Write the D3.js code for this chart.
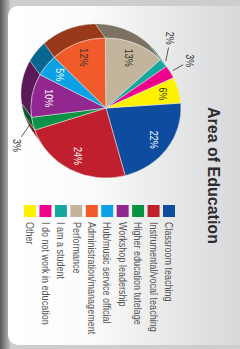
<!DOCTYPE html>
<meta charset="utf-8">
<script src="https://d3js.org/d3.v7.min.js"></script>
<style>
  body { margin: 0; background: #cfcfcf; }
  svg { display: block; }
</style>
<body>
<div id="my_dataviz"></div>
<script>

// data
var categories = ["Classroom teaching", "Instrumental/vocal teaching", "Higher education tutelage",
  "Workshop leadership", "Hub/music service official", "Administration/management",
  "Performance", "I am a student", "I do not work in education", "Other"];
var percents = [22, 24, 3, 10, 5, 12, 13, 2, 3, 6];
var colors = ["#0d4c9f", "#c01f2e", "#0b9345", "#92278f", "#0aa2e4", "#f15a29",
  "#c3b59b", "#14a89d", "#ec008c", "#fff200"];
var title = "Area of Education";

// leader line turn (degrees) for the small outside labels
var leaderTurn = {"I am a student": -6, "Higher education tutelage": -7};

var W = 240, H = 349;
var svg = d3.select("#my_dataviz")
  .append("svg")
    .attr("width", W)
    .attr("height", H);

var defs = svg.append("defs");

// page edge + card background
var edge = defs.append("linearGradient").attr("id", "edge")
  .attr("x1", 0).attr("x2", 1).attr("y1", 0).attr("y2", 0);
edge.append("stop").attr("offset", 0).attr("stop-color", "#585858");
edge.append("stop").attr("offset", 1).attr("stop-color", "#bdbdbd");

var card = defs.append("linearGradient").attr("id", "card")
  .attr("gradientUnits", "userSpaceOnUse")
  .attr("x1", 8).attr("x2", W).attr("y1", 0).attr("y2", 0);
card.append("stop").attr("offset", 0).attr("stop-color", "#ffffff");
card.append("stop").attr("offset", 0.35).attr("stop-color", "#fbfbfb");
card.append("stop").attr("offset", 1).attr("stop-color", "#d7d8da");

svg.append("rect").attr("width", W).attr("height", H).attr("fill", "#cdcdcd");
svg.append("rect").attr("width", 10).attr("height", H).attr("fill", "url(#edge)");
svg.append("rect")
  .attr("x", 8).attr("y", 6)
  .attr("width", W + 20).attr("height", H - 10)
  .attr("rx", 10)
  .attr("fill", "url(#card)");

// the whole chart is laid out upright and turned a quarter clockwise
var g = svg.append("g")
  .attr("transform", "translate(" + W + ",0) rotate(90)");

var data = categories.map(function(c, i) {
  return {name: c, value: percents[i], color: colors[i]};
});

var cx = 108, cy = 134, rx = 70, ry = 75;
var depth = [-14, 10];
var rad = Math.PI / 180;
var squeeze = 0.82;   // the original uses a condensed face

var pie = d3.pie()
  .sort(null)
  .value(function(d) { return d.value; })
  .startAngle(-4 * rad)
  .endAngle(356 * rad);
var arcs = pie(data);

function pt(a, r) {
  return [cx + r * rx * Math.sin(a), cy - r * ry * Math.cos(a)];
}
function facing(a) {
  return ry * Math.sin(a) * depth[0] - rx * Math.cos(a) * depth[1] > 0;
}
function at(p) {
  return "translate(" + p[0] + "," + p[1] + ") scale(" + squeeze + ",1)";
}

// side walls
var line = d3.line();
g.append("g").selectAll("path")
  .data(arcs)
  .enter()
  .append("path")
    .attr("d", function(d) {
      var as = d3.range(d.startAngle, d.endAngle, 0.01).concat([d.endAngle]).filter(facing);
      if (as.length < 2) return null;
      var top = as.map(function(a) { return pt(a, 1); });
      var bottom = as.slice().reverse().map(function(a) {
        var p = pt(a, 1); return [p[0] + depth[0], p[1] + depth[1]];
      });
      return line(top.concat(bottom)) + "Z";
    })
    .attr("fill", function(d) { return d3.color(d.data.color).darker(1.3); })
    .attr("stroke", "#d8d8d8")
    .attr("stroke-width", 0.4);

// top face
var arc = d3.arc().innerRadius(0).outerRadius(rx);
g.append("g")
  .attr("transform", "translate(" + cx + "," + cy + ") scale(1," + (ry / rx) + ")")
  .selectAll("path")
  .data(arcs)
  .enter()
  .append("path")
    .attr("d", arc)
    .attr("fill", function(d) { return d.data.color; })
    .attr("stroke", "#e8e8e8")
    .attr("stroke-width", 0.5)
    .attr("vector-effect", "non-scaling-stroke");

var font = "'Liberation Sans', Arial, sans-serif";
function mid(d) { return (d.startAngle + d.endAngle) / 2; }

// inside labels
g.append("g").selectAll("text")
  .data(arcs.filter(function(d) { return d.data.value > 3; }))
  .enter()
  .append("text")
    .attr("transform", function(d) { return at(pt(mid(d), 0.78)); })
    .attr("text-anchor", "middle")
    .attr("dominant-baseline", "central")
    .style("font-family", font)
    .style("font-size", "11px")
    .attr("fill", function(d) { return d3.hsl(d.data.color).l > 0.48 ? "#333" : "#fff"; })
    .text(function(d) { return d.data.value + "%"; });

// outside labels with leaders
var small = arcs.filter(function(d) { return d.data.value <= 3; });
var turn = function(d) { return (leaderTurn[d.data.name] || 0) * rad; };
g.append("g").selectAll("line")
  .data(small)
  .enter()
  .append("line")
    .attr("x1", function(d) { return pt(mid(d), 1.04)[0]; })
    .attr("y1", function(d) { return pt(mid(d), 1.04)[1]; })
    .attr("x2", function(d) { return pt(mid(d) + turn(d), 1.2)[0]; })
    .attr("y2", function(d) { return pt(mid(d) + turn(d), 1.2)[1]; })
    .attr("stroke", "#333")
    .attr("stroke-width", 0.8);
g.append("g").selectAll("text")
  .data(small)
  .enter()
  .append("text")
    .attr("transform", function(d) { return at(pt(mid(d) + 1.6 * turn(d), 1.31)); })
    .attr("text-anchor", "middle")
    .attr("dominant-baseline", "central")
    .style("font-family", font)
    .style("font-size", "11px")
    .attr("fill", "#333")
    .text(function(d) { return d.data.value + "%"; });

// title
g.append("text")
  .attr("x", 107)
  .attr("y", 32)
  .style("font-family", font)
  .style("font-weight", "bold")
  .style("font-size", "16px")
  .attr("fill", "#2d2d2d")
  .text(title);

// legend
var ly = d3.scalePoint().domain(categories).range([71, 210]);
var legend = g.append("g").selectAll("g")
  .data(data)
  .enter()
  .append("g")
    .attr("transform", function(d) { return "translate(205," + ly(d.name) + ")"; });
legend.append("rect")
  .attr("y", -6)
  .attr("width", 12)
  .attr("height", 12)
  .attr("fill", function(d) { return d.color; });
legend.append("text")
  .attr("transform", at([17, 0]))
  .attr("dominant-baseline", "central")
  .style("font-family", font)
  .style("font-size", "11px")
  .attr("fill", "#555")
  .text(function(d) { return d.name; });

</script>
</body>
